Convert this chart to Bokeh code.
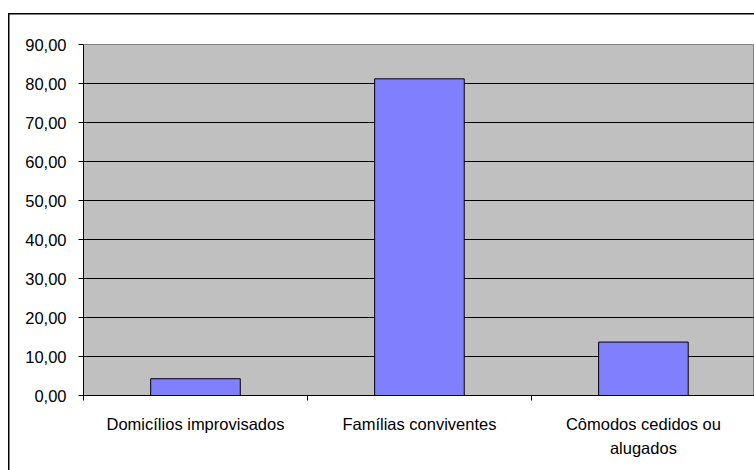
from bokeh.plotting import figure
from bokeh.models import Range1d, FixedTicker, ColumnDataSource
from bokeh.embed import file_html
from bokeh.resources import INLINE

# Share of the housing deficit by component (%)
categories = ["Domicílios improvisados", "Famílias conviventes", "Cômodos cedidos ou alugados"]
category_labels = ["Domicílios improvisados", "Famílias conviventes", "Cômodos cedidos ou\nalugados"]
values = [4.3, 81.2, 13.7]
y_ticks = [0, 10, 20, 30, 40, 50, 60, 70, 80, 90]
y_tick_labels = ["0,00", "10,00", "20,00", "30,00", "40,00", "50,00", "60,00", "70,00", "80,00", "90,00"]

FONT = "Liberation Sans"
FONT_SIZE = "16.5px"

x_pos = [i + 0.5 for i in range(len(categories))]
source = ColumnDataSource(data=dict(x=x_pos, top=values, name=categories))

# the chart box starts 8px from the left and 13px from the top of the page;
# its right and bottom edges run off the page, so only left/top lines show
p = figure(
    width=746, height=457,
    x_range=Range1d(0, 2.996), y_range=Range1d(0, 90),
    output_backend="svg", toolbar_location=None,
    min_border_left=75, min_border_top=31, min_border_bottom=75, min_border_right=0,
)
p.margin = (13, 0, 0, 8)
p.styles = {"box-shadow": "inset 1.5px 1.5px 0 0 black", "background-color": "white"}

p.background_fill_color = "#C0C0C0"
p.border_fill_color = None
p.outline_line_color = "#808080"
p.outline_line_width = 1

p.vbar(x="x", top="top", bottom=0, width=0.4, source=source,
       fill_color="#8080FF", line_color="black", line_width=1)

# y axis
p.yaxis.ticker = FixedTicker(ticks=y_ticks, minor_ticks=[])
p.yaxis.major_label_overrides = {t: l for t, l in zip(y_ticks, y_tick_labels)}
p.yaxis.axis_line_color = "black"
p.yaxis.major_tick_line_color = "black"
p.yaxis.major_tick_out = 5
p.yaxis.major_tick_in = 0
p.yaxis.minor_tick_line_color = None
p.yaxis.major_label_standoff = 12
p.yaxis.major_label_text_font = FONT
p.yaxis.major_label_text_font_size = FONT_SIZE
p.yaxis.major_label_text_color = "black"

# x axis: labels at category centres, ticks at category boundaries
p.xaxis.ticker = FixedTicker(ticks=x_pos, minor_ticks=[0, 1, 2, 3])
p.xaxis.major_label_overrides = {x: l for x, l in zip(x_pos, category_labels)}
p.xaxis.axis_line_color = "black"
p.xaxis.major_tick_line_color = None
p.xaxis.major_tick_out = 0
p.xaxis.major_tick_in = 0
p.xaxis.minor_tick_line_color = "black"
p.xaxis.minor_tick_out = 5
p.xaxis.minor_tick_in = 0
p.xaxis.major_label_standoff = 14
p.xaxis.major_label_text_font = FONT
p.xaxis.major_label_text_font_size = FONT_SIZE
p.xaxis.major_label_text_color = "black"
p.xaxis.major_label_text_line_height = 1.36

p.xgrid.grid_line_color = None
p.ygrid.ticker = FixedTicker(ticks=y_ticks[1:-1])
p.ygrid.grid_line_color = "black"
p.ygrid.grid_line_width = 1

open("out.html", "w").write(file_html(p, INLINE))
